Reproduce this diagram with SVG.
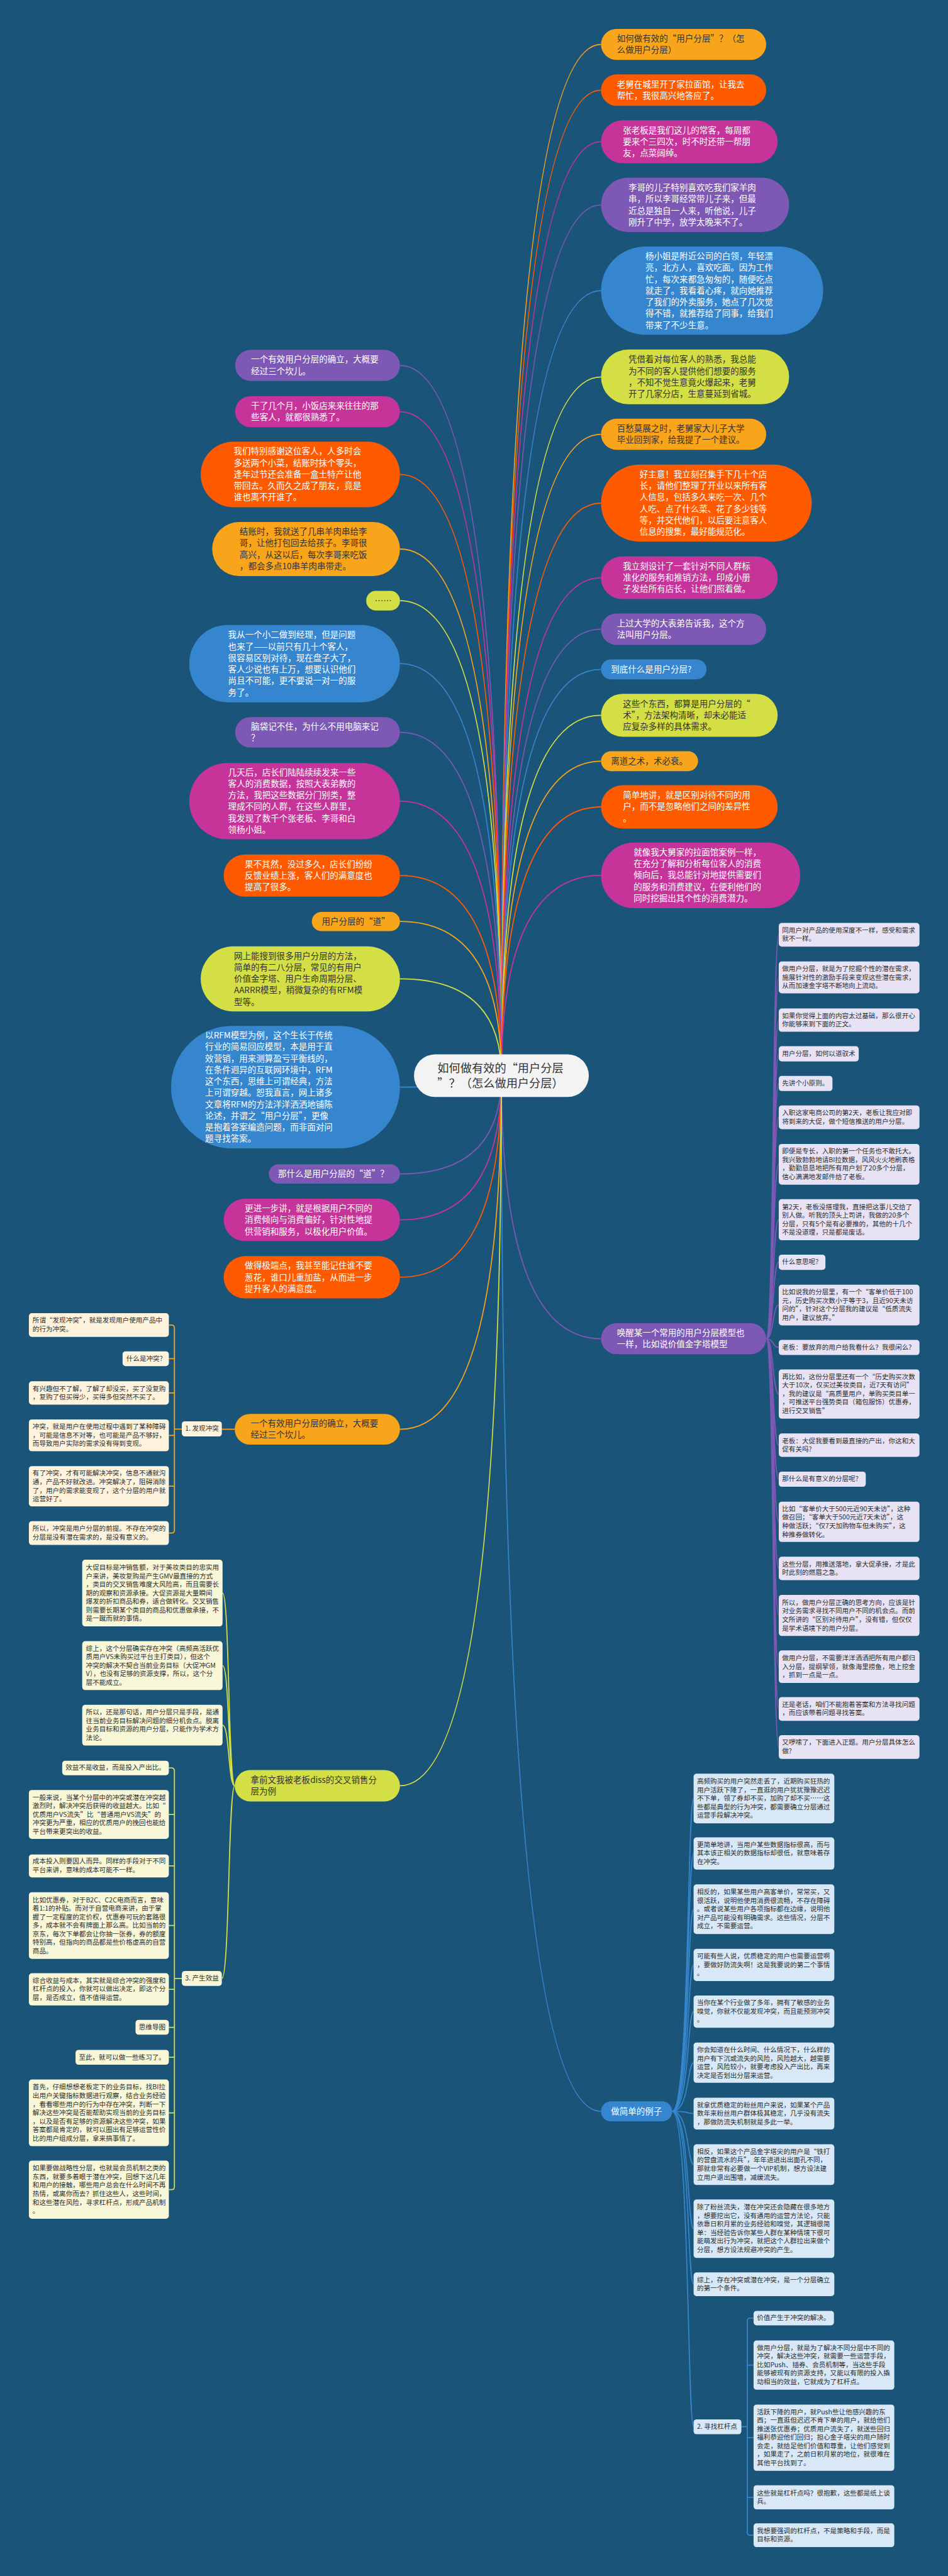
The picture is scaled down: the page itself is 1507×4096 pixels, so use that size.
<svg xmlns="http://www.w3.org/2000/svg" width="1507" height="4096" viewBox="0 0 1507 4096">
<style>
text{font-family:"Noto Sans CJK SC","Noto Sans",sans-serif}
.m{font-size:23px}
.s{font-size:18px}
.rt{font-size:31px;fill:#333}
.w{fill:#fff}
.d{fill:#333}
.nt{fill:#2e2e2e}
.oy{fill:#F9A51B}.or{fill:#FE5A00}.mg{fill:#C6349A}.pu{fill:#7D58B4}.bl{fill:#3586CF}.yg{fill:#D3DF44}
.lav{fill:#E7E3F4}.lbl{fill:#D8E8F6}.crm{fill:#FEF3DC}.lye{fill:#F8F7D7}
.c{fill:none;stroke-width:3}
.coy{stroke:#F9A51B}.cor{stroke:#FE5A00}.cmg{stroke:#C6349A}.cpu{stroke:#7D58B4}.cbl{stroke:#3586CF}.cyg{stroke:#D3DF44}
</style>
<rect width="1507" height="4096" fill="#1B5479"/>
<g transform="scale(0.58867)">
<g id="connectors">
<path class="c coy" d="M1354 2905Q1354 120 1623 120"/>
<path class="c cor" d="M1354 2905Q1354 243.5 1623 243.5"/>
<path class="c cmg" d="M1354 2905Q1354 383 1623 383"/>
<path class="c cpu" d="M1354 2905Q1354 553.5 1623 553.5"/>
<path class="c cbl" d="M1354 2905Q1354 785 1623 785"/>
<path class="c cyg" d="M1354 2905Q1354 1018 1623 1018"/>
<path class="c coy" d="M1354 2905Q1354 1173 1623 1173"/>
<path class="c cor" d="M1354 2905Q1354 1359 1623 1359"/>
<path class="c cmg" d="M1354 2905Q1354 1560.5 1623 1560.5"/>
<path class="c cpu" d="M1354 2905Q1354 1699.5 1623 1699.5"/>
<path class="c cbl" d="M1354 2905Q1354 1808 1623 1808"/>
<path class="c cyg" d="M1354 2905Q1354 1932 1623 1932"/>
<path class="c coy" d="M1354 2905Q1354 2056 1623 2056"/>
<path class="c cor" d="M1354 2905Q1354 2179.5 1623 2179.5"/>
<path class="c cmg" d="M1354 2905Q1354 2364.5 1623 2364.5"/>
<path class="c cpu" d="M1354 2905Q1354 3616 1623 3616"/>
<path class="c cbl" d="M1354 2905Q1354 5703 1623 5703"/>
<path class="c cpu" d="M1354 2905Q1354 987 1080 987"/>
<path class="c cmg" d="M1354 2905Q1354 1112 1080 1112"/>
<path class="c cor" d="M1354 2905Q1354 1281.5 1080 1281.5"/>
<path class="c coy" d="M1354 2905Q1354 1483 1080 1483"/>
<path class="c cyg" d="M1354 2905Q1354 1622.5 1080 1622.5"/>
<path class="c cbl" d="M1354 2905Q1354 1792.5 1080 1792.5"/>
<path class="c cpu" d="M1354 2905Q1354 1978 1080 1978"/>
<path class="c cmg" d="M1354 2905Q1354 2164 1080 2164"/>
<path class="c cor" d="M1354 2905Q1354 2365 1080 2365"/>
<path class="c coy" d="M1354 2905Q1354 2489 1080 2489"/>
<path class="c cyg" d="M1354 2905Q1354 2644 1080 2644"/>
<path class="c cbl" d="M1354 2905Q1354 2936.5 1080 2936.5"/>
<path class="c cpu" d="M1354 2905Q1354 3171 1080 3171"/>
<path class="c cmg" d="M1354 2905Q1354 3295 1080 3295"/>
<path class="c cor" d="M1354 2905Q1354 3450 1080 3450"/>
<path class="c coy" d="M1354 2905Q1354 3860.5 1080 3860.5"/>
<path class="c cyg" d="M1354 2905Q1354 4823.5 1080 4823.5"/>
<!-- purple notes -->
<path class="c cpu" d="M2069 3616C2090 3616 2086 2525 2103 2525M2069 3616C2090 3616 2086 2640 2103 2640M2069 3616C2090 3616 2086 2755.5 2103 2755.5M2069 3616C2090 3616 2086 2846.5 2103 2846.5M2069 3616C2090 3616 2086 2926.5 2103 2926.5M2069 3616C2090 3616 2086 3018 2103 3018M2069 3616C2090 3616 2086 3145 2103 3145M2069 3616C2090 3616 2086 3294.5 2103 3294.5M2069 3616C2090 3616 2086 3409.5 2103 3409.5M2069 3616C2090 3616 2086 3525 2103 3525M2069 3616C2090 3616 2086 3639.5 2103 3639.5M2069 3616C2090 3616 2086 3765.5 2103 3765.5M2069 3616C2090 3616 2086 3903.5 2103 3903.5M2069 3616C2090 3616 2086 3995.5 2103 3995.5M2069 3616C2090 3616 2086 4110.5 2103 4110.5M2069 3616C2090 3616 2086 4236.5 2103 4236.5M2069 3616C2090 3616 2086 4363.5 2103 4363.5M2069 3616C2090 3616 2086 4502 2103 4502M2069 3616C2090 3616 2086 4616 2103 4616M2069 3616C2090 3616 2086 4719 2103 4719"/>
<!-- blue notes -->
<path class="c cbl" d="M1815 5703C1862 5703 1856 4858 1873 4858M1815 5703C1862 5703 1856 5006.5 1873 5006.5M1815 5703C1862 5703 1856 5157 1873 5157M1815 5703C1862 5703 1856 5307.5 1873 5307.5M1815 5703C1862 5703 1856 5433.5 1873 5433.5M1815 5703C1862 5703 1856 5571.5 1873 5571.5M1815 5703C1862 5703 1856 5709 1873 5709M1815 5703C1862 5703 1856 5847 1873 5847M1815 5703C1862 5703 1856 6020 1873 6020M1815 5703C1862 5703 1856 6170 1873 6170M1815 5703C1862 5703 1856 6555 1873 6555"/>
<path class="c cbl" d="M2035 6261.5H2026Q2018 6261.5 2018 6269.5V6840Q2018 6848 2026 6848H2035M2018 6388.5H2035M2018 6584.5H2035M2018 6745.5H2035M2002 6555H2018"/>
<!-- orange group -->
<path class="c coy" d="M634 3860.5H599"/>
<path class="c coy" d="M456 3579H463Q471 3579 471 3587V4133Q471 4141 463 4141H456M471 3670H456M471 3762.5H456M471 3877H456M471 4014.5H456M491 3860H471"/>
<!-- yellow-green group -->
<path class="c cyg" d="M634 4823.5C616 4823.5 620 4303 601 4303M634 4823.5C616 4823.5 620 4499 601 4499M634 4823.5C616 4823.5 620 4660 601 4660M634 4823.5C616 4823.5 620 5344 599 5344"/>
<path class="c cyg" d="M456 4775.5H463Q471 4775.5 471 4783.5V5906.5Q471 5914.5 463 5914.5H456M471 4901H456M471 5040H456M471 5201H456M471 5373.5H456M471 5476H456M471 5557H456M471 5707H456M491 5344H471"/>
</g>

<g id="root"><rect x="1118" y="2848" width="472" height="115" rx="57" fill="#F3F3F3"/><text class="rt" x="1181" y="2896">如何做有效的“用户分层<tspan x="1181" dy="41">”？（怎么做用户分层）</tspan></text></g>

<g id="r1"><rect class="oy" x="1623" y="78" width="446" height="84" rx="42"/><text class="m d" x="1666" y="112">如何做有效的“用户分层”？（怎<tspan x="1666" dy="31">么做用户分层）</tspan></text></g>
<g id="r2"><rect class="or" x="1623" y="201" width="446" height="85" rx="42"/><text class="m w" x="1666" y="236">老舅在城里开了家拉面馆，让我去<tspan x="1666" dy="31">帮忙，我很高兴地答应了。</tspan></text></g>
<g id="r3"><rect class="mg" x="1623" y="325" width="477" height="116" rx="58"/><text class="m w" x="1682" y="360">张老板是我们这儿的常客，每周都<tspan x="1682" dy="31">要来个三四次，时不时还带一帮朋</tspan><tspan x="1682" dy="31">友，点菜阔绰。</tspan></text></g>
<g id="r4"><rect class="pu" x="1623" y="480" width="508" height="147" rx="73"/><text class="m w" x="1697" y="515">李哥的儿子特别喜欢吃我们家羊肉<tspan x="1697" dy="31">串，所以李哥经常带儿子来，但最</tspan><tspan x="1697" dy="31">近总是独自一人来，听他说，儿子</tspan><tspan x="1697" dy="31">刚升了中学，放学太晚来不了。</tspan></text></g>
<g id="r5"><rect class="bl" x="1623" y="666" width="600" height="238" rx="119"/><text class="m w" x="1743" y="700">杨小姐是附近公司的白领，年轻漂<tspan x="1743" dy="31">亮，北方人，喜欢吃面。因为工作</tspan><tspan x="1743" dy="31">忙，每次来都急匆匆的，随便吃点</tspan><tspan x="1743" dy="31">就走了。我看着心疼，就向她推荐</tspan><tspan x="1743" dy="31">了我们的外卖服务，她点了几次觉</tspan><tspan x="1743" dy="31">得不错，就推荐给了同事，给我们</tspan><tspan x="1743" dy="31">带来了不少生意。</tspan></text></g>
<g id="r6"><rect class="yg" x="1623" y="944" width="508" height="148" rx="74"/><text class="m d" x="1697" y="979">凭借着对每位客人的熟悉，我总能<tspan x="1697" dy="31">为不同的客人提供他们想要的服务</tspan><tspan x="1697" dy="31">，不知不觉生意竟火爆起来，老舅</tspan><tspan x="1697" dy="31">开了几家分店，生意蔓延到省城。</tspan></text></g>
<g id="r7"><rect class="oy" x="1623" y="1131" width="446" height="84" rx="42"/><text class="m d" x="1666" y="1165">百愁莫展之时，老舅家大儿子大学<tspan x="1666" dy="31">毕业回到家，给我提了一个建议。</tspan></text></g>
<g id="r8"><rect class="or" x="1623" y="1255" width="569" height="208" rx="104"/><text class="m w" x="1727" y="1289">好主意！我立刻召集手下几十个店<tspan x="1727" dy="31">长，请他们整理了开业以来所有客</tspan><tspan x="1727" dy="31">人信息，包括多久来吃一次、几个</tspan><tspan x="1727" dy="31">人吃、点了什么菜、花了多少钱等</tspan><tspan x="1727" dy="31">等，并交代他们，以后要注意客人</tspan><tspan x="1727" dy="31">信息的搜集，最好能规范化。</tspan></text></g>
<g id="r9"><rect class="mg" x="1623" y="1503" width="477" height="115" rx="57"/><text class="m w" x="1682" y="1537">我立刻设计了一套针对不同人群标<tspan x="1682" dy="31">准化的服务和推销方法，印成小册</tspan><tspan x="1682" dy="31">子发给所有店长，让他们照着做。</tspan></text></g>
<g id="r10"><rect class="pu" x="1623" y="1657" width="446" height="85" rx="42"/><text class="m w" x="1666" y="1692">上过大学的大表弟告诉我，这个方<tspan x="1666" dy="31">法叫用户分层。</tspan></text></g>
<g id="r11"><rect class="bl" x="1623" y="1781" width="285" height="54" rx="27"/><text class="m w" x="1650" y="1816">到底什么是用户分层?</text></g>
<g id="r12"><rect class="yg" x="1623" y="1874" width="477" height="116" rx="58"/><text class="m d" x="1682" y="1909">这些个东西，都算是用户分层的“<tspan x="1682" dy="31">术”，方法架构清晰，却未必能适</tspan><tspan x="1682" dy="31">应复杂多样的具体需求。</tspan></text></g>
<g id="r13"><rect class="oy" x="1623" y="2029" width="262" height="54" rx="27"/><text class="m d" x="1650" y="2064">离道之术，术必衰。</text></g>
<g id="r14"><rect class="or" x="1623" y="2121" width="477" height="117" rx="58"/><text class="m w" x="1682" y="2156">简单地讲，就是区别对待不同的用<tspan x="1682" dy="31">户，而不是忽略他们之间的差异性</tspan><tspan x="1682" dy="31">。</tspan></text></g>
<g id="r15"><rect class="mg" x="1623" y="2276" width="538" height="177" rx="88"/><text class="m w" x="1711" y="2310">就像我大舅家的拉面馆案例一样，<tspan x="1711" dy="31">在充分了解和分析每位客人的消费</tspan><tspan x="1711" dy="31">倾向后，我总能针对地提供需要们</tspan><tspan x="1711" dy="31">的服务和消费建议，在便利他们的</tspan><tspan x="1711" dy="31">同时挖掘出其个性的消费潜力。</tspan></text></g>
<g id="r16"><rect class="pu" x="1623" y="3574" width="446" height="84" rx="42"/><text class="m w" x="1666" y="3608">唤醒某一个常用的用户分层模型也<tspan x="1666" dy="31">一样，比如说价值金字塔模型</tspan></text></g>
<g id="r17"><rect class="bl" x="1623" y="5676" width="192" height="54" rx="27"/><text class="m w" x="1650" y="5711">做简单的例子</text></g>

<g id="l1"><rect class="pu" x="635" y="945" width="445" height="84" rx="42"/><text class="m w" x="678" y="979">一个有效用户分层的确立，大概要<tspan x="678" dy="31">经过三个坎儿。</tspan></text></g>
<g id="l2"><rect class="mg" x="635" y="1070" width="445" height="84" rx="42"/><text class="m w" x="678" y="1104">干了几个月，小饭店来来往往的那<tspan x="678" dy="31">些客人，就都很熟悉了。</tspan></text></g>
<g id="l3"><rect class="or" x="542" y="1193" width="538" height="177" rx="88"/><text class="m w" x="631" y="1227">我们特别感谢这位客人，人多时会<tspan x="631" dy="31">多送两个小菜，结账时抹个零头，</tspan><tspan x="631" dy="31">逢年过节还会准备一盒土特产让他</tspan><tspan x="631" dy="31">带回去。久而久之成了朋友，竟是</tspan><tspan x="631" dy="31">谁也离不开谁了。</tspan></text></g>
<g id="l4"><rect class="oy" x="573" y="1410" width="507" height="146" rx="73"/><text class="m d" x="647" y="1444">结账时，我就送了几串羊肉串给李<tspan x="647" dy="31">哥，让他打包回去给孩子。李哥很</tspan><tspan x="647" dy="31">高兴，从这以后，每次李哥来吃饭</tspan><tspan x="647" dy="31">，都会多点10串羊肉串带走。</tspan></text></g>
<g id="l5"><rect class="yg" x="989" y="1596" width="91" height="53" rx="26"/><text class="m d" x="1012" y="1630">……</text></g>
<g id="l6"><rect class="bl" x="511" y="1688" width="569" height="209" rx="104"/><text class="m w" x="616" y="1723">我从一个小二做到经理，但是问题<tspan x="616" dy="31">也来了——以前只有几十个客人，</tspan><tspan x="616" dy="31">很容易区别对待，现在盘子大了，</tspan><tspan x="616" dy="31">客人少说也有上万，想要认识他们</tspan><tspan x="616" dy="31">尚且不可能，更不要说一对一的服</tspan><tspan x="616" dy="31">务了。</tspan></text></g>
<g id="l7"><rect class="pu" x="635" y="1937" width="445" height="82" rx="41"/><text class="m w" x="678" y="1970">脑袋记不住，为什么不用电脑来记<tspan x="678" dy="31">？</tspan></text></g>
<g id="l8"><rect class="mg" x="511" y="2061" width="569" height="206" rx="103"/><text class="m w" x="616" y="2094">几天后，店长们陆陆续续发来一些<tspan x="616" dy="31">客人的消费数据，按照大表弟教的</tspan><tspan x="616" dy="31">方法，我把这些数据分门别类，整</tspan><tspan x="616" dy="31">理成不同的人群，在这些人群里，</tspan><tspan x="616" dy="31">我发现了数千个张老板、李哥和白</tspan><tspan x="616" dy="31">领杨小姐。</tspan></text></g>
<g id="l9"><rect class="or" x="604" y="2308" width="476" height="114" rx="57"/><text class="m w" x="661" y="2342">果不其然，没过多久，店长们纷纷<tspan x="661" dy="31">反馈业绩上涨，客人们的满意度也</tspan><tspan x="661" dy="31">提高了很多。</tspan></text></g>
<g id="l10"><rect class="oy" x="842" y="2463" width="238" height="52" rx="26"/><text class="m d" x="869" y="2497">用户分层的“道”</text></g>
<g id="l11"><rect class="yg" x="542" y="2556" width="538" height="176" rx="88"/><text class="m d" x="632" y="2590">网上能搜到很多用户分层的方法，<tspan x="632" dy="31">简单的有二八分层，常见的有用户</tspan><tspan x="632" dy="31">价值金字塔、用户生命周期分层、</tspan><tspan x="632" dy="31">AARRR模型，稍微复杂的有RFM模</tspan><tspan x="632" dy="31">型等。</tspan></text></g>
<g id="l12"><rect class="bl" x="462" y="2771" width="618" height="331" rx="165"/><text class="m w" x="554" y="2805">以RFM模型为例，这个生长于传统<tspan x="554" dy="31">行业的简易回应模型，本是用于直</tspan><tspan x="554" dy="31">效营销，用来测算盈亏平衡线的，</tspan><tspan x="554" dy="31">在条件迥异的互联网环境中，RFM</tspan><tspan x="554" dy="31">这个东西，思维上可谓经典，方法</tspan><tspan x="554" dy="31">上可谓穿越。恕我直言，网上诸多</tspan><tspan x="554" dy="31">文章将RFM的方法洋洋洒洒地铺陈</tspan><tspan x="554" dy="31">论述，并谓之“用户分层”，更像</tspan><tspan x="554" dy="31">是抱着答案编造问题，而非面对问</tspan><tspan x="554" dy="31">题寻找答案。</tspan></text></g>
<g id="l13"><rect class="pu" x="726" y="3145" width="354" height="52" rx="26"/><text class="m w" x="751" y="3179">那什么是用户分层的“道”？</text></g>
<g id="l14"><rect class="mg" x="604" y="3238" width="476" height="114" rx="57"/><text class="m w" x="661" y="3272">更进一步讲，就是根据用户不同的<tspan x="661" dy="31">消费倾向与消费偏好，针对性地提</tspan><tspan x="661" dy="31">供营销和服务，以极化用户价值。</tspan></text></g>
<g id="l15"><rect class="or" x="604" y="3393" width="476" height="114" rx="57"/><text class="m w" x="661" y="3427">做得极端点，我甚至能记住谁不要<tspan x="661" dy="31">葱花，谁口儿重加盐，从而进一步</tspan><tspan x="661" dy="31">提升客人的满意度。</tspan></text></g>
<g id="lb1"><rect class="oy" x="634" y="3819" width="446" height="83" rx="41"/><text class="m d" x="677" y="3853">一个有效用户分层的确立，大概要<tspan x="677" dy="31">经过三个坎儿。</tspan></text></g>
<g id="lb2"><rect class="yg" x="634" y="4781" width="446" height="85" rx="42"/><text class="m d" x="677" y="4816">拿前文我被老板diss的交叉销售分<tspan x="677" dy="31">层为例</tspan></text></g>

<g id="n1"><rect class="lav" x="2103" y="2493" width="380" height="64" rx="8"/><text class="s nt" x="2112" y="2519">同用户对产品的使用深度不一样，感受和需求<tspan x="2112" dy="23">就不一样。</tspan></text></g>
<g id="n2"><rect class="lav" x="2103" y="2597" width="380" height="86" rx="8"/><text class="s nt" x="2112" y="2623">做用户分层，就是为了挖掘个性的潜在需求，<tspan x="2112" dy="23">施展针对性的激励手段来变现这些潜在需求，</tspan><tspan x="2112" dy="23">从而加速金字塔不断地向上流动。</tspan></text></g>
<g id="n3"><rect class="lav" x="2103" y="2724" width="380" height="63" rx="8"/><text class="s nt" x="2112" y="2750">如果你觉得上面的内容太过基础，那么很开心<tspan x="2112" dy="23">你能够来到下面的正文。</tspan></text></g>
<g id="n4"><rect class="lav" x="2103" y="2826" width="216" height="41" rx="8"/><text class="s nt" x="2112" y="2852">用户分层，如何以道驭术</text></g>
<g id="n5"><rect class="lav" x="2103" y="2906" width="145" height="41" rx="8"/><text class="s nt" x="2112" y="2932">先讲个小原则。</text></g>
<g id="n6"><rect class="lav" x="2103" y="2986" width="380" height="64" rx="8"/><text class="s nt" x="2112" y="3012">入职这家电商公司的第2天，老板让我应对即<tspan x="2112" dy="23">将到来的大促，做个短信推送的用户分层。</tspan></text></g>
<g id="n7"><rect class="lav" x="2103" y="3090" width="380" height="110" rx="8"/><text class="s nt" x="2112" y="3116">即便是专长，入职的第一个任务也不敢托大。<tspan x="2112" dy="23">我兴致勃勃地请BI拉数据，风风火火地刷表格</tspan><tspan x="2112" dy="23">，勤勤恳恳地把所有用户划了20多个分层，</tspan><tspan x="2112" dy="23">信心满满地发邮件给了老板。</tspan></text></g>
<g id="n8"><rect class="lav" x="2103" y="3239" width="380" height="111" rx="8"/><text class="s nt" x="2112" y="3266">第2天，老板没搭理我，直接把这事儿交给了<tspan x="2112" dy="23">别人做。听我的顶头上司讲，我做的20多个</tspan><tspan x="2112" dy="23">分层，只有5个是有必要推的，其他的十几个</tspan><tspan x="2112" dy="23">不是没道理，只是都是废话。</tspan></text></g>
<g id="n9"><rect class="lav" x="2103" y="3389" width="126" height="41" rx="8"/><text class="s nt" x="2112" y="3415">什么意思呢?</text></g>
<g id="n10"><rect class="lav" x="2103" y="3470" width="380" height="110" rx="8"/><text class="s nt" x="2112" y="3496">比如说我的分层里，有一个“客单价低于100<tspan x="2112" dy="23">元，历史购买次数小于等于3，且近90天未访</tspan><tspan x="2112" dy="23">问的”，针对这个分层我的建议是“低质流失</tspan><tspan x="2112" dy="23">用户，建议放弃。”</tspan></text></g>
<g id="n11"><rect class="lav" x="2103" y="3619" width="380" height="41" rx="8"/><text class="s nt" x="2112" y="3645">老板：要放弃的用户给我看什么？我很闲么?</text></g>
<g id="n12"><rect class="lav" x="2103" y="3699" width="380" height="133" rx="8"/><text class="s nt" x="2112" y="3725">再比如，这份分层里还有一个“历史购买次数<tspan x="2112" dy="23">大于10次，仅买过美妆类目，近7天有访问”</tspan><tspan x="2112" dy="23">，我的建议是“高质量用户，单购买类目单一</tspan><tspan x="2112" dy="23">，可推送平台强势类目（箱包服饰）优惠券，</tspan><tspan x="2112" dy="23">进行交叉销售”</tspan></text></g>
<g id="n13"><rect class="lav" x="2103" y="3872" width="380" height="63" rx="8"/><text class="s nt" x="2112" y="3898">老板：大促我要看到最直接的产出，你这和大<tspan x="2112" dy="23">促有关吗?</tspan></text></g>
<g id="n14"><rect class="lav" x="2103" y="3975" width="235" height="41" rx="8"/><text class="s nt" x="2112" y="4001">那什么是有意义的分层呢?</text></g>
<g id="n15"><rect class="lav" x="2103" y="4056" width="380" height="109" rx="8"/><text class="s nt" x="2112" y="4082">比如“客单价大于500元近90天未访”，这种<tspan x="2112" dy="23">做召回；“客单大于500元近7天未访”，这</tspan><tspan x="2112" dy="23">种做活跃；“仅7天加购物车但未购买”，这</tspan><tspan x="2112" dy="23">种推券做转化。</tspan></text></g>
<g id="n16"><rect class="lav" x="2103" y="4205" width="380" height="63" rx="8"/><text class="s nt" x="2112" y="4231">这些分层，用推送落地，拿大促承接，才是此<tspan x="2112" dy="23">时此刻的燃眉之急。</tspan></text></g>
<g id="n17"><rect class="lav" x="2103" y="4308" width="380" height="111" rx="8"/><text class="s nt" x="2112" y="4335">所以，做用户分层正确的思考方向，应该是针<tspan x="2112" dy="23">对业务需求寻找不同用户不同的机会点。而前</tspan><tspan x="2112" dy="23">文所讲的“区别对待用户”，没有错，但仅仅</tspan><tspan x="2112" dy="23">是学术语境下的用户分层。</tspan></text></g>
<g id="n18"><rect class="lav" x="2103" y="4458" width="380" height="88" rx="8"/><text class="s nt" x="2112" y="4485">做用户分层，不需要洋洋洒洒把所有用户都归<tspan x="2112" dy="23">入分层，提纲挈领，就像海里捞鱼，地上挖金</tspan><tspan x="2112" dy="23">，抓到一点是一点。</tspan></text></g>
<g id="n19"><rect class="lav" x="2103" y="4584" width="380" height="64" rx="8"/><text class="s nt" x="2112" y="4610">还是老话，咱们不能抱着答案和方法寻找问题<tspan x="2112" dy="23">，而应该带着问题寻找答案。</tspan></text></g>
<g id="n20"><rect class="lav" x="2103" y="4687" width="380" height="64" rx="8"/><text class="s nt" x="2112" y="4713">又啰嗦了，下面进入正题。用户分层具体怎么<tspan x="2112" dy="23">做?</tspan></text></g>

<g id="b1"><rect class="lbl" x="1873" y="4791" width="380" height="134" rx="8"/><text class="s nt" x="1882" y="4818">高频购买的用户突然走丢了，近期购买狂热的<tspan x="1882" dy="23">用户活跃下降了，一直逛的用户犹犹豫豫迟迟</tspan><tspan x="1882" dy="23">不下单，领了券却不买，加购了却不买……这</tspan><tspan x="1882" dy="23">些都是典型的行为冲突，都需要确立分层通过</tspan><tspan x="1882" dy="23">运营手段解决冲突。</tspan></text></g>
<g id="b2"><rect class="lbl" x="1873" y="4963" width="380" height="87" rx="8"/><text class="s nt" x="1882" y="4989">更简单地讲，当用户某些数据指标很高，而与<tspan x="1882" dy="23">其本该正相关的数据指标却很低，就意味着存</tspan><tspan x="1882" dy="23">在冲突。</tspan></text></g>
<g id="b3"><rect class="lbl" x="1873" y="5090" width="380" height="134" rx="8"/><text class="s nt" x="1882" y="5117">相反的，如果某些用户高客单价，常常买，又<tspan x="1882" dy="23">很活跃，说明他使用消费很流畅，不存在障碍</tspan><tspan x="1882" dy="23">。或者说某些用户各项指标都在边缘，说明他</tspan><tspan x="1882" dy="23">对产品可能没有明确需求。这些情况，分层不</tspan><tspan x="1882" dy="23">成立，不需要运营。</tspan></text></g>
<g id="b4"><rect class="lbl" x="1873" y="5264" width="380" height="87" rx="8"/><text class="s nt" x="1882" y="5290">可能有些人说，优质稳定的用户也需要运营啊<tspan x="1882" dy="23">，要做好防流失啊！这是我要说的第二个事情</tspan><tspan x="1882" dy="23">。</tspan></text></g>
<g id="b5"><rect class="lbl" x="1873" y="5390" width="380" height="87" rx="8"/><text class="s nt" x="1882" y="5416">当你在某个行业做了多年，拥有了敏感的业务<tspan x="1882" dy="23">嗅觉，你就不仅能发现冲突，而且能预测冲突</tspan><tspan x="1882" dy="23">。</tspan></text></g>
<g id="b6"><rect class="lbl" x="1873" y="5517" width="380" height="109" rx="8"/><text class="s nt" x="1882" y="5543">你会知道在什么时间、什么情况下，什么样的<tspan x="1882" dy="23">用户有下沉或流失的风险，风险越大，越需要</tspan><tspan x="1882" dy="23">运营，风险较小，就要考虑投入产出比，再来</tspan><tspan x="1882" dy="23">决定是否划出分层来运营。</tspan></text></g>
<g id="b7"><rect class="lbl" x="1873" y="5666" width="380" height="86" rx="8"/><text class="s nt" x="1882" y="5692">就拿优质稳定的粉丝用户来说，如果某个产品<tspan x="1882" dy="23">数年来粉丝用户群体极其稳定，几乎没有流失</tspan><tspan x="1882" dy="23">，那做防流失机制就是多此一举。</tspan></text></g>
<g id="b8"><rect class="lbl" x="1873" y="5792" width="380" height="110" rx="8"/><text class="s nt" x="1882" y="5818">相反，如果这个产品金字塔尖的用户是“铁打<tspan x="1882" dy="23">的营盘流水的兵”，年年进进出出面孔不同，</tspan><tspan x="1882" dy="23">那就非常有必要做一个VIP机制，想方设法建</tspan><tspan x="1882" dy="23">立用户退出围墙，减缓流失。</tspan></text></g>
<g id="b9"><rect class="lbl" x="1873" y="5941" width="380" height="158" rx="8"/><text class="s nt" x="1882" y="5968">除了粉丝流失，潜在冲突还会隐藏在很多地方<tspan x="1882" dy="23">，想要挖出它，没有通用的运营方法论，只能</tspan><tspan x="1882" dy="23">依靠日积月累的业务经验和嗅觉，其逻辑很简</tspan><tspan x="1882" dy="23">单：当经验告诉你某些人群在某种情境下很可</tspan><tspan x="1882" dy="23">能萌发出行为冲突，就把这个人群拉出来做个</tspan><tspan x="1882" dy="23">分层，想方设法规避冲突的产生。</tspan></text></g>
<g id="b10"><rect class="lbl" x="1873" y="6138" width="380" height="64" rx="8"/><text class="s nt" x="1882" y="6164">综上，存在冲突或潜在冲突，是一个分层确立<tspan x="1882" dy="23">的第一个条件。</tspan></text></g>
<g id="k2"><rect class="lbl" x="1873" y="6535" width="129" height="40" rx="8"/><text class="s nt" x="1882" y="6561">2. 寻找杠杆点</text></g>
<g id="k2a"><rect class="lbl" x="2035" y="6242" width="217" height="39" rx="8"/><text class="s nt" x="2044" y="6267">价值产生于冲突的解决。</text></g>
<g id="k2b"><rect class="lbl" x="2035" y="6322" width="380" height="133" rx="8"/><text class="s nt" x="2044" y="6348">做用户分层，就是为了解决不同分层中不同的<tspan x="2044" dy="23">冲突，解决这些冲突，就需要一些运营手段，</tspan><tspan x="2044" dy="23">比如Push、插券、会员机制等，当这些手段</tspan><tspan x="2044" dy="23">能够被现有的资源支持，又能以有限的投入撬</tspan><tspan x="2044" dy="23">动相当的效益，它就成为了杠杆点。</tspan></text></g>
<g id="k2c"><rect class="lbl" x="2035" y="6495" width="380" height="179" rx="8"/><text class="s nt" x="2044" y="6521">活跃下降的用户，就Push些让他感兴趣的东<tspan x="2044" dy="23">西；一直逛但迟迟不肯下单的用户，就给他们</tspan><tspan x="2044" dy="23">推送张优惠券；优质用户流失了，就送些回归</tspan><tspan x="2044" dy="23">福利恭迎他们回归；担心金子塔尖的用户随时</tspan><tspan x="2044" dy="23">会走，就给足他们价值和尊重，让他们感觉到</tspan><tspan x="2044" dy="23">，如果走了，之前日积月累的地位，就很难在</tspan><tspan x="2044" dy="23">其他平台找到了。</tspan></text></g>
<g id="k2d"><rect class="lbl" x="2035" y="6713" width="380" height="65" rx="8"/><text class="s nt" x="2044" y="6740">这些就是杠杆点吗？很抱歉，这些都是纸上谈<tspan x="2044" dy="23">兵。</tspan></text></g>
<g id="k2e"><rect class="lbl" x="2035" y="6816" width="380" height="64" rx="8"/><text class="s nt" x="2044" y="6842">我想要强调的杠杆点，不是策略和手段，而是<tspan x="2044" dy="23">目标和资源。</tspan></text></g>

<g id="k1"><rect class="crm" x="491" y="3839" width="108" height="41" rx="8"/><text class="s nt" x="500" y="3865">1. 发现冲突</text></g>
<g id="c1"><rect class="crm" x="78" y="3547" width="378" height="64" rx="8"/><text class="s nt" x="88" y="3573">所谓“发现冲突”，就是发现用户使用产品中<tspan x="88" dy="23">的行为冲突。</tspan></text></g>
<g id="c2"><rect class="crm" x="331" y="3650" width="125" height="40" rx="8"/><text class="s nt" x="341" y="3676">什么是冲突?</text></g>
<g id="c3"><rect class="crm" x="78" y="3731" width="378" height="63" rx="8"/><text class="s nt" x="88" y="3757">有兴趣但不了解，了解了却没买，买了没复购<tspan x="88" dy="23">，复购了但买得少，买得多但突然不买了。</tspan></text></g>
<g id="c4"><rect class="crm" x="78" y="3834" width="378" height="86" rx="8"/><text class="s nt" x="88" y="3860">冲突，就是用户在使用过程中遇到了某种障碍<tspan x="88" dy="23">，可能是信息不对等，也可能是产品不够好，</tspan><tspan x="88" dy="23">而导致用户实际的需求没有得到变现。</tspan></text></g>
<g id="c5"><rect class="crm" x="78" y="3960" width="378" height="109" rx="8"/><text class="s nt" x="88" y="3986">有了冲突，才有可能解决冲突，信息不通就沟<tspan x="88" dy="23">通，产品不好就改进。冲突解决了，阻碍消除</tspan><tspan x="88" dy="23">了，用户的需求能变现了，这个分层的用户就</tspan><tspan x="88" dy="23">运营好了。</tspan></text></g>
<g id="c6"><rect class="crm" x="78" y="4109" width="378" height="64" rx="8"/><text class="s nt" x="88" y="4135">所以，冲突是用户分层的前提。不存在冲突的<tspan x="88" dy="23">分层是没有潜在需求的，是没有意义的。</tspan></text></g>

<g id="d1"><rect class="lye" x="222" y="4213" width="379" height="180" rx="8"/><text class="s nt" x="232" y="4240">大促目标是冲销售额，对于美妆类目的忠实用<tspan x="232" dy="23">户来讲，美妆复购是产生GMV最直接的方式</tspan><tspan x="232" dy="23">，类目的交叉销售难度大风险高，而且需要长</tspan><tspan x="232" dy="23">期的观察和资源承接。大促资源是大量瞬间</tspan><tspan x="232" dy="23">爆发的折扣商品和券，适合做转化。交叉销售</tspan><tspan x="232" dy="23">则需要长期某个类目的商品和优惠做承接，不</tspan><tspan x="232" dy="23">是一蹴而就的事情。</tspan></text></g>
<g id="d2"><rect class="lye" x="222" y="4433" width="379" height="132" rx="8"/><text class="s nt" x="232" y="4459">综上，这个分层确实存在冲突（高频高活跃优<tspan x="232" dy="23">质用户VS未购买过平台主打类目），但这个</tspan><tspan x="232" dy="23">冲突的解决不契合当前业务目标（大促冲GM</tspan><tspan x="232" dy="23">V），也没有足够的资源支撑，所以，这个分</tspan><tspan x="232" dy="23">层不能成立。</tspan></text></g>
<g id="d3"><rect class="lye" x="222" y="4605" width="379" height="110" rx="8"/><text class="s nt" x="232" y="4631">所以，还是那句话，用户分层只是手段，是通<tspan x="232" dy="23">往当前业务目标解决问题的细分机会点。脱离</tspan><tspan x="232" dy="23">业务目标和资源的用户分层，只能作为学术方</tspan><tspan x="232" dy="23">法论。</tspan></text></g>
<g id="k3"><rect class="lye" x="491" y="5324" width="108" height="40" rx="8"/><text class="s nt" x="500" y="5350">3. 产生效益</text></g>
<g id="e1"><rect class="lye" x="168" y="4756" width="288" height="39" rx="8"/><text class="s nt" x="177" y="4781">效益不是收益，而是投入产出比。</text></g>
<g id="e2"><rect class="lye" x="78" y="4835" width="378" height="132" rx="8"/><text class="s nt" x="88" y="4861">一般来说，当某个分层中的冲突或潜在冲突越<tspan x="88" dy="23">激烈时，解决冲突后获得的收益越大。比如“</tspan><tspan x="88" dy="23">优质用户VS流失”比“普通用户VS流失”的</tspan><tspan x="88" dy="23">冲突更为严重，相应的优质用户的挽回也能给</tspan><tspan x="88" dy="23">平台带来更突出的收益。</tspan></text></g>
<g id="e3"><rect class="lye" x="78" y="5009" width="378" height="62" rx="8"/><text class="s nt" x="88" y="5034">成本投入则要因人而异。同样的手段对于不同<tspan x="88" dy="23">平台来讲，意味的成本可能不一样。</tspan></text></g>
<g id="e4"><rect class="lye" x="78" y="5111" width="378" height="180" rx="8"/><text class="s nt" x="88" y="5138">比如优惠券，对于B2C、C2C电商而言，意味<tspan x="88" dy="23">着1:1的补贴。而对于自营电商来讲，由于掌</tspan><tspan x="88" dy="23">握了一定程度的定价权，优惠券可玩的套路很</tspan><tspan x="88" dy="23">多，成本就不会有牌面上那么高。比如当前的</tspan><tspan x="88" dy="23">京东，每次下单都会让你抽一张券，券的额度</tspan><tspan x="88" dy="23">特别高，但指向的商品都是些价格虚高的自营</tspan><tspan x="88" dy="23">商品。</tspan></text></g>
<g id="e5"><rect class="lye" x="78" y="5330" width="378" height="87" rx="8"/><text class="s nt" x="88" y="5356">综合收益与成本，其实就是综合冲突的强度和<tspan x="88" dy="23">杠杆点的投入，你就可以做出决定，即这个分</tspan><tspan x="88" dy="23">层，是否成立，值不值得运营。</tspan></text></g>
<g id="e6"><rect class="lye" x="366" y="5456" width="90" height="40" rx="8"/><text class="s nt" x="375" y="5482">思维导图</text></g>
<g id="e7"><rect class="lye" x="204" y="5537" width="252" height="40" rx="8"/><text class="s nt" x="213" y="5563">至此，就可以做一些练习了。</text></g>
<g id="e8"><rect class="lye" x="78" y="5617" width="378" height="180" rx="8"/><text class="s nt" x="88" y="5644">首先，仔细想想老板定下的业务目标，找BI拉<tspan x="88" dy="23">出用户关键指标数据进行观察，结合业务经验</tspan><tspan x="88" dy="23">，看看哪些用户的行为中存在冲突，判断一下</tspan><tspan x="88" dy="23">解决这些冲突是否能帮助实现当前的业务目标</tspan><tspan x="88" dy="23">，以及是否有足够的资源解决这些冲突，如果</tspan><tspan x="88" dy="23">答案都是肯定的，就可以圈出有足够运营性价</tspan><tspan x="88" dy="23">比的用户组成分层，拿来搞事情了。</tspan></text></g>
<g id="e9"><rect class="lye" x="78" y="5836" width="378" height="157" rx="8"/><text class="s nt" x="88" y="5863">如果要做战略性分层，也就是会员机制之类的<tspan x="88" dy="23">东西，就要多着眼于潜在冲突，回想下这几年</tspan><tspan x="88" dy="23">和用户的接触，哪些用户总会在什么时间不再</tspan><tspan x="88" dy="23">热情，或离你而去？抓住这些人，这些时间，</tspan><tspan x="88" dy="23">和这些潜在风险，寻求杠杆点，形成产品机制</tspan><tspan x="88" dy="23">。</tspan></text></g>
</g>
</svg>
